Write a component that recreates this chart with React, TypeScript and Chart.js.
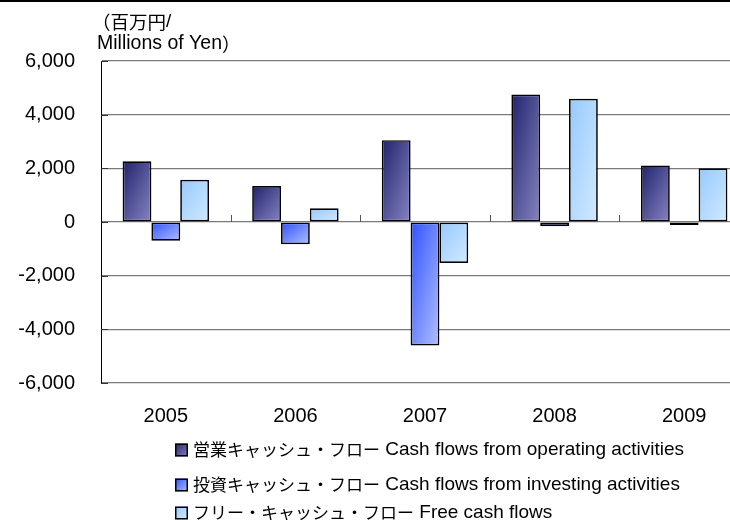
import React, { useEffect, useRef } from "react";
import { Chart, registerables } from "chart.js";

Chart.register(...registerables);

// ---- data ----
const categories = ["2005", "2006", "2007", "2008", "2009"];
const operatingCF = [2260, 1340, 3050, 4750, 2110];
const investingCF = [-700, -830, -4600, -160, -110];
const freeCF = [1570, 510, -1530, 4590, 2000];
const seriesLabels = [
  "営業キャッシュ・フロー Cash flows from operating activities",
  "投資キャッシュ・フロー Cash flows from investing activities",
  "フリー・キャッシュ・フロー Free cash flows",
];
const axisTitleLines = ["（百万円/", "Millions of Yen）"];
const yMin = -6000;
const yMax = 6000;
const yStep = 2000;

// ---- styles ----
const palettes: [string, string][] = [
  ["#22226e", "#8585c2"],
  ["#2f52ff", "#b0bfff"],
  ["#95c9ff", "#d2eaff"],
];
const CAT_PCT = 0.667;
const LATIN = "'Liberation Sans', Arial, sans-serif";
const CJK = "'Noto Sans CJK JP', sans-serif";
const FONT = "'Liberation Sans', Arial, 'Noto Sans CJK JP', sans-serif";
const CANVAS_W = 760;
const CANVAS_H = 520;

function diagGradient(
  ctx: CanvasRenderingContext2D,
  x: number,
  y: number,
  w: number,
  h: number,
  c0: string,
  c1: string
): CanvasGradient | string {
  const ww = Math.max(w, 1);
  const hh = Math.max(h, 1);
  const k = 2 / (1 / (ww * ww) + 1 / (hh * hh));
  const x1 = x + k / ww;
  const y1 = y + k / hh;
  if (![x, y, x1, y1].every((n) => Number.isFinite(n))) return c0;
  const g = ctx.createLinearGradient(x, y, x1, y1);
  g.addColorStop(0, c0);
  g.addColorStop(1, c1);
  return g;
}

function barFill(seriesIdx: number) {
  return (c: any) => {
    const pal = palettes[seriesIdx];
    const chart = c.chart;
    const xs = chart.scales?.x;
    const ys = chart.scales?.y;
    if (c.type !== "data" || !xs || !ys || c.raw == null) return pal[0];
    const n = categories.length;
    const cw = xs.width / n;
    const bw = (cw * CAT_PCT) / 3;
    const cx = xs.getPixelForValue(c.dataIndex);
    const left = cx + (c.datasetIndex - 1.5) * bw;
    const v = c.raw as number;
    const top = ys.getPixelForValue(Math.max(v, 0));
    const bot = ys.getPixelForValue(Math.min(v, 0));
    if (![cw, cx, top, bot].every((q) => Number.isFinite(q)) || cw <= 0) return pal[0];
    return diagGradient(chart.ctx, left, top, bw, bot - top, pal[0], pal[1]);
  };
}

// draw text in runs: Latin runs in Latin font, CJK runs in CJK font
function drawMixed(
  ctx: CanvasRenderingContext2D,
  text: string,
  x: number,
  y: number,
  latinSize: number,
  cjkSize: number
) {
  const runs: { s: string; cjk: boolean }[] = [];
  for (const ch of text) {
    const cjk = ch.charCodeAt(0) > 0x2000;
    const last = runs[runs.length - 1];
    if (last && last.cjk === cjk) last.s += ch;
    else runs.push({ s: ch, cjk });
  }
  let cx = x;
  for (const r of runs) {
    ctx.font = r.cjk ? `${cjkSize}px ${CJK}` : `${latinSize}px ${LATIN}`;
    ctx.fillText(r.s, cx, y);
    cx += ctx.measureText(r.s).width;
  }
}

const decorPlugin = {
  id: "decor",
  afterDatasetsDraw(chart: any) {
    const ctx: CanvasRenderingContext2D = chart.ctx;
    const xs = chart.scales.x;
    const ys = chart.scales.y;
    const area = chart.chartArea;
    ctx.save();
    // inner y tick marks
    ctx.strokeStyle = "#333";
    ctx.lineWidth = 1;
    ys.ticks.forEach((_t: any, i: number) => {
      const py = Math.round(ys.getPixelForTick(i)) + 0.5;
      ctx.beginPath();
      ctx.moveTo(area.left, py);
      ctx.lineTo(area.left + 7, py);
      ctx.stroke();
    });
    // category separators on zero line
    const y0 = ys.getPixelForValue(0);
    ctx.strokeStyle = "#555";
    for (let i = 1; i <= categories.length; i++) {
      const px = Math.round(xs.getPixelForValue(i - 0.5)) + 0.5;
      ctx.beginPath();
      ctx.moveTo(px, y0);
      ctx.lineTo(px, y0 - 7);
      ctx.stroke();
    }
    ctx.restore();
  },
  afterDraw(chart: any) {
    const ctx: CanvasRenderingContext2D = chart.ctx;
    ctx.save();
    // top frame line
    ctx.fillStyle = "#000";
    ctx.fillRect(0, 0, CANVAS_W, 2);
    // unit title
    ctx.fillStyle = "#000";
    ctx.textBaseline = "middle";
    ctx.textAlign = "left";
    drawMixed(ctx, axisTitleLines[0], 92, 22, 19, 18.5);
    drawMixed(ctx, axisTitleLines[1], 97, 44, 19.5, 18.5);
    // legend
    const rows = [450, 485, 513];
    const boxX = 175;
    const box = 13;
    chart.data.datasets.forEach((ds: any, i: number) => {
      const cy = rows[i];
      const pal = palettes[i];
      const g = diagGradient(ctx, boxX, cy - box / 2, box, box, pal[0], pal[1]);
      ctx.fillStyle = g;
      ctx.fillRect(boxX, cy - box / 2, box, box);
      ctx.strokeStyle = "#000";
      ctx.lineWidth = 1.5;
      ctx.strokeRect(boxX + 0.75, cy - box / 2 + 0.75, box - 1.5, box - 1.5);
      ctx.fillStyle = "#000";
      ctx.textBaseline = "middle";
      drawMixed(ctx, ds.label, 193, cy, 19, 17);
    });
    ctx.restore();
  },
};

export default function App() {
  const ref = useRef<HTMLCanvasElement | null>(null);

  useEffect(() => {
    if (!ref.current) return;
    const series = [operatingCF, investingCF, freeCF];
    const chart = new Chart(ref.current, {
      type: "bar",
      data: {
        labels: categories,
        datasets: series.map((d, i) => ({
          label: seriesLabels[i],
          data: d,
          backgroundColor: barFill(i),
          borderColor: "#000",
          borderWidth: 1.7,
          borderSkipped: false,
          categoryPercentage: CAT_PCT,
          barPercentage: 1,
        })),
      },
      options: {
        responsive: false,
        animation: false,
        devicePixelRatio: 1,
        layout: { padding: { left: 0, top: 61, right: 11, bottom: 0 } },
        plugins: {
          legend: { display: false },
          tooltip: { enabled: false },
          title: { display: false },
        },
        scales: {
          x: {
            offset: true,
            grid: { display: false },
            border: { display: false },
            ticks: {
              color: "#000",
              font: { family: FONT, size: 20 },
              padding: 13,
              maxRotation: 0,
            },
            afterFit: (s: any) => {
              s.height = CANVAS_H - 383;
            },
          },
          y: {
            min: yMin,
            max: yMax,
            grid: { color: "#7a7a7a", lineWidth: 1.2, drawTicks: false },
            border: { display: true, color: "#000", width: 1 },
            ticks: {
              stepSize: yStep,
              color: "#000",
              font: { family: FONT, size: 20 },
              padding: 26,
              callback: (v: any) => Number(v).toLocaleString("en-US"),
            },
            afterFit: (s: any) => {
              s.width = 101;
            },
          },
        },
      },
      plugins: [decorPlugin],
    });
    return () => chart.destroy();
  }, []);

  return (
    <div
      style={{
        position: "fixed",
        left: 0,
        top: 0,
        width: 730,
        height: 520,
        overflow: "hidden",
        background: "#fff",
      }}
    >
      <canvas
        ref={ref}
        width={CANVAS_W}
        height={CANVAS_H}
        style={{ display: "block", width: CANVAS_W, height: CANVAS_H }}
      />
    </div>
  );
}
